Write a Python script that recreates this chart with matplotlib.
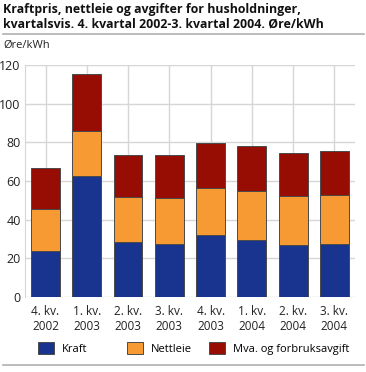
import matplotlib

matplotlib.use("Agg")
import matplotlib.pyplot as plt
from matplotlib.patches import Patch
from matplotlib.lines import Line2D

plt.rcParams["font.family"] = ["Open Sans", "DejaVu Sans"]

QUARTERS = ["4. kv.\n2002", "1. kv.\n2003", "2. kv.\n2003", "3. kv.\n2003",
            "4. kv.\n2003", "1. kv.\n2004", "2. kv.\n2004", "3. kv.\n2004"]
KRAFT = [23.8, 62.8, 28.3, 27.4, 32.1, 29.3, 26.9, 27.6]
NETTLEIE = [21.9, 23.1, 23.3, 23.7, 24.4, 25.4, 25.2, 25.2]
MVA = [20.9, 29.6, 22.0, 22.2, 23.2, 23.3, 22.6, 22.7]

COL = {"Kraft": "#19348f", "Nettleie": "#f79a33", "Mva. og forbruksavgift": "#970d04"}
EDGE = "#4a4a4a"

fig = plt.figure(figsize=(3.66, 3.72), dpi=100)
ax = fig.add_axes([0.068, 0.2016, 0.902, 0.6236])

x = list(range(len(QUARTERS)))
bottom2 = KRAFT
bottom3 = [k + n for k, n in zip(KRAFT, NETTLEIE)]
ax.bar(x, KRAFT, width=0.7, color=COL["Kraft"], edgecolor=EDGE, linewidth=0.7, zorder=3)
ax.bar(x, NETTLEIE, width=0.7, bottom=bottom2, color=COL["Nettleie"], edgecolor=EDGE, linewidth=0.7, zorder=3)
ax.bar(x, MVA, width=0.7, bottom=bottom3, color=COL["Mva. og forbruksavgift"], edgecolor=EDGE,
       linewidth=0.7, zorder=3)

ax.set_xlim(-0.5, len(QUARTERS) - 0.5)
ax.set_ylim(0, 120)
ax.set_yticks(range(0, 121, 20))
ax.set_xticks(x)
ax.set_xticklabels(QUARTERS, fontsize=8.5, color="#222222", linespacing=1.2)
ax.tick_params(axis="y", labelsize=9, colors="#222222", length=0, pad=3)
ax.tick_params(axis="x", length=0, pad=6)
ax.grid(True, color="#d6d6d6", linewidth=1, zorder=0)
for s in ("top", "right", "bottom"):
    ax.spines[s].set_visible(False)
ax.spines["left"].set_color("#d6d6d6")

fig.text(0.008, 0.993, "Kraftpris, nettleie og avgifter for husholdninger,\n"
         "kvartalsvis. 4. kvartal 2002-3. kvartal 2004. Øre/kWh",
         fontsize=8.9, fontweight="bold", va="top", ha="left", linespacing=1.2, color="#111111")
fig.add_artist(Line2D([0.008, 0.995], [0.908, 0.908], color="#b0b0b0", linewidth=1.2))
fig.text(0.008, 0.878, "Øre/kWh", fontsize=8, va="center", ha="left", color="#222222")
fig.add_artist(Line2D([0.008, 0.995], [0.018, 0.018], color="#b0b0b0", linewidth=1.2))

# one legend per entry so the spacing follows the reference
for (lab, c), lx in zip(COL.items(), (0.105, 0.348, 0.572)):
    fig.legend([Patch(facecolor=c, edgecolor=EDGE, linewidth=0.7)], [lab], loc="center left",
               bbox_to_anchor=(lx, 0.064), frameon=False, fontsize=8, handlelength=1.4,
               handleheight=1.4, handletextpad=0.7, borderaxespad=0, borderpad=0)

fig.savefig("out.png", dpi=100)
